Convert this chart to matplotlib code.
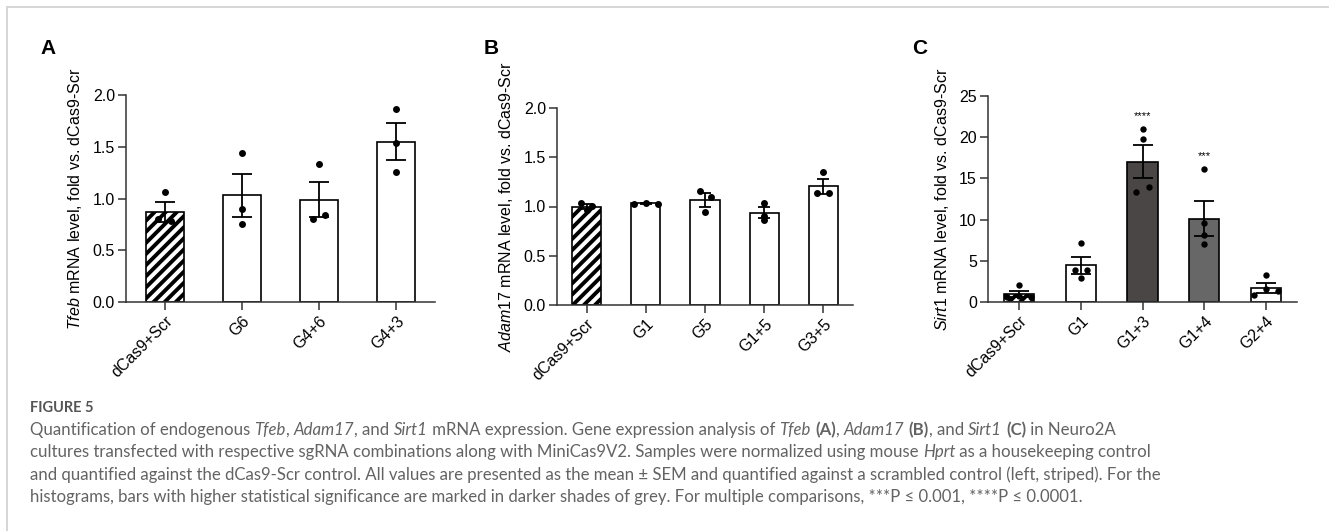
import re
import matplotlib
matplotlib.use('Agg')
import matplotlib.pyplot as plt
from matplotlib.lines import Line2D
import numpy as np

# ---- data ----
a_labels = ['dCas9+Scr', 'G6', 'G4+6', 'G4+3']
a_mean = [0.87, 1.03, 0.99, 1.55]
a_sem = [0.095, 0.21, 0.17, 0.175]
a_pts = [[1.06, 0.80, 0.78], [1.44, 0.90, 0.75], [1.33, 0.80, 0.84], [1.86, 1.54, 1.26]]

b_labels = ['dCas9+Scr', 'G1', 'G5', 'G1+5', 'G3+5']
b_mean = [1.00, 1.035, 1.065, 0.935, 1.205]
b_sem = [0.025, 0.005, 0.068, 0.055, 0.075]
b_pts = [[1.04, 1.01, 0.96], [1.03, 1.04, 1.03], [1.16, 1.10, 0.94],
         [1.04, 0.90, 0.86], [1.35, 1.14, 1.14]]

c_labels = ['dCas9+Scr', 'G1', 'G1+3', 'G1+4', 'G2+4']
c_mean = [1.0, 4.45, 17.0, 10.1, 1.7]
c_sem = [0.35, 1.0, 2.0, 2.1, 0.55]
c_pts = [[2.1, 0.75, 0.6, 0.55], [7.2, 3.85, 3.85, 2.9], [21.0, 19.8, 13.3, 14.0],
         [16.1, 9.6, 8.1, 7.0], [3.25, 0.9, 1.6, 1.3]]
c_sig = ['', '', '****', '***', '']

caption_head = 'FIGURE 5'
caption = [
    'Quantification of endogenous <i>Tfeb</i>, <i>Adam17</i>, and <i>Sirt1</i> mRNA expression. '
    'Gene expression analysis of <i>Tfeb</i> <b>(A)</b>, <i>Adam17</i> <b>(B)</b>, and <i>Sirt1</i> <b>(C)</b> in Neuro2A',
    'cultures transfected with respective sgRNA combinations along with MiniCas9V2. '
    'Samples were normalized using mouse <i>Hprt</i> as a housekeeping control',
    'and quantified against the dCas9-Scr control. All values are presented as the mean \u00b1 SEM '
    'and quantified against a scrambled control (left, striped). For the',
    'histograms, bars with higher statistical significance are marked in darker shades of grey. '
    'For multiple comparisons, ***P \u2264 0.001, ****P \u2264 0.0001.',
]

# ---- style ----
plt.rcParams['font.family'] = ['Liberation Sans', 'DejaVu Sans']
plt.rcParams['hatch.linewidth'] = 2.8
plt.rcParams['mathtext.fontset'] = 'custom'
plt.rcParams['mathtext.it'] = 'Liberation Sans:italic'
plt.rcParams['mathtext.rm'] = 'Liberation Sans'

W, H = 1329, 531
fig = plt.figure(figsize=(W / 100, H / 100), dpi=100)


def px_axes(l, r, t, b):
    return fig.add_axes([l / W, 1 - b / H, (r - l) / W, (b - t) / H])


def draw_panel(ax, labels, means, sems, pts, offs, colors, ymax, ystep, fmt, gene, capsize, ms):
    x = np.arange(len(labels))
    for i in range(len(labels)):
        ax.bar(x[i], means[i], width=0.49, color=colors[i], edgecolor='black',
               linewidth=1.2, hatch='///' if i == 0 else None, zorder=2)
    ax.errorbar(x, means, yerr=sems, fmt='none', ecolor='black', elinewidth=1.3,
                capsize=capsize, capthick=1.3, zorder=3)
    for i in range(len(labels)):
        ax.plot(x[i] + np.array(offs[i]), pts[i], 'o', color='black', ms=ms,
                mec='none', zorder=4, clip_on=False)
    ax.set_xlim(-0.5, len(labels) - 0.5)
    ax.set_ylim(0, ymax)
    ticks = np.arange(0, ymax + ystep / 2, ystep)
    ax.set_yticks(ticks)
    ax.set_yticklabels([fmt.format(t) for t in ticks])
    ax.set_xticks(x)
    ax.set_xticklabels(labels, rotation=45, ha='right', rotation_mode='anchor')
    for s in ['top', 'right']:
        ax.spines[s].set_visible(False)
    for s in ['left', 'bottom']:
        ax.spines[s].set_color('#333333')
        ax.spines[s].set_linewidth(1.1)
    ax.tick_params(length=6, width=1.1, color='#333333', labelsize=11.5, pad=2)
    ax.set_ylabel(r'$\mathit{' + gene + '}$ mRNA level, fold vs. dCas9-Scr',
                  fontsize=11.5, labelpad=6)


ax_a = px_axes(126, 435, 95, 302)
draw_panel(ax_a, a_labels, a_mean, a_sem, a_pts,
           [[0, -0.085, 0.085], [0, 0, 0], [0, -0.08, 0.08], [0, 0, 0]],
           ['white'] * 4, 2.0, 0.5, '{:.1f}', 'Tfeb', 7, 5)

ax_b = px_axes(557, 853, 108, 305)
draw_panel(ax_b, b_labels, b_mean, b_sem, b_pts,
           [[-0.09, 0.09, 0], [-0.2, 0, 0.2], [-0.09, 0.1, 0], [0, 0, 0], [0, -0.1, 0.1]],
           ['white'] * 5, 2.0, 0.5, '{:.1f}', 'Adam17', 4.5, 5)

ax_c = px_axes(988, 1297, 96, 302)
draw_panel(ax_c, c_labels, c_mean, c_sem, c_pts,
           [[0, 0, -0.2, 0.2], [0, -0.1, 0.1, 0], [0, 0, -0.1, 0.1], [0, 0, 0, 0], [0, -0.2, 0, 0.2]],
           ['white', 'white', '#4b4646', '#676767', 'white'], 25, 5, '{:.0f}', 'Sirt1', 7, 4.6)
for i, s in enumerate(c_sig):
    if s:
        ax_c.text(i, max(c_pts[i]) + 1.2, s, ha='center', va='baseline', fontsize=8)

# panel letters
for lx, ly, letter in [(48, 49, 'A'), (491, 48, 'B'), (920, 49, 'C')]:
    fig.text(lx / W, 1 - ly / H, letter, fontsize=15, weight='bold', ha='center', va='center')

# frame lines of the figure box
fig.add_artist(Line2D([7 / W, 1], [1 - 7 / H, 1 - 7 / H], color='#d6d6d6', lw=1.4))
fig.add_artist(Line2D([7 / W, 7 / W], [0, 1 - 7 / H], color='#d6d6d6', lw=1.4))

# caption with mixed styles
renderer = fig.canvas.get_renderer()
cap_font = ['Lato', 'DejaVu Sans']


def text_width(s, **kw):
    t1 = fig.text(0, 0, '|' + s + '|', **kw)
    t2 = fig.text(0, 0, '||', **kw)
    w = t1.get_window_extent(renderer).width - t2.get_window_extent(renderer).width
    t1.remove()
    t2.remove()
    return w


def draw_line(x, y, line, **base):
    for part in re.split(r'(<[ib]>.*?</[ib]>)', line):
        if not part:
            continue
        kw = dict(base)
        if part.startswith('<i>'):
            part = part[3:-4]
            kw['style'] = 'italic'
        elif part.startswith('<b>'):
            part = part[3:-4]
            kw['weight'] = 'bold'
        fig.text(x / W, 1 - y / H, part, va='center', **kw)
        x += text_width(part, **kw)


fig.text(30 / W, 1 - 408 / H, caption_head, family=cap_font, fontsize=10.5,
         weight='bold', color='#555555', va='center')
for k, line in enumerate(caption):
    draw_line(30, 430 + k * 22.4, line, family=cap_font, fontsize=12.05, color='#636363')

fig.savefig('out.png', dpi=100)
